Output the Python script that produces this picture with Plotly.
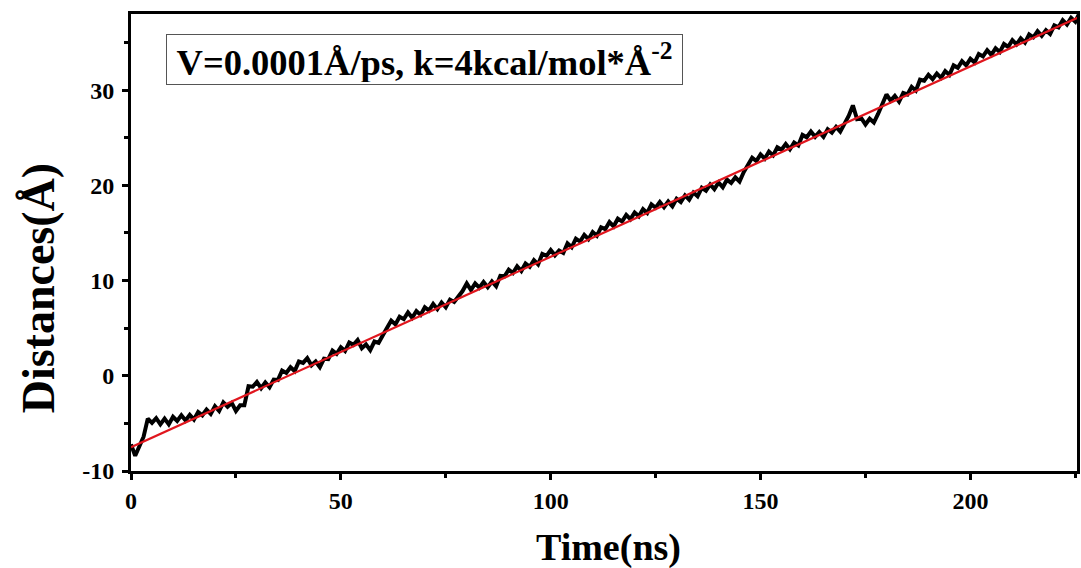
import plotly.graph_objects as go

# Time (ns), 1 ns steps
time_ns = list(range(0, 227))
# Distance trace (Å)
distance = [
    -7.2, -8.4, -7.4, -6.4, -4.5, -4.95, -4.45, -5.1, -4.5, -5.1,
    -4.3, -4.75, -4.15, -4.7, -4.1, -4.6, -3.8, -4.15, -3.55, -4.0,
    -3.2, -3.7, -2.8, -3.25, -2.85, -3.7, -3.1, -3.1, -1.1, -1.15,
    -0.65, -1.3, -0.7, -1.2, -0.4, -0.45, 0.55, 0.3, 0.9, 0.5,
    1.5, 1.35, 1.85, 1.1, 1.5, 0.9, 1.8, 1.75, 2.65, 2.3,
    3.0, 2.6, 3.5, 3.25, 3.75, 2.9, 3.3, 2.7, 3.6, 3.45,
    4.25, 5.0, 5.8, 5.4, 6.2, 5.95, 6.65, 6.1, 6.8, 6.4,
    7.2, 6.85, 7.55, 7.0, 7.7, 7.2, 8.0, 7.75, 8.35, 8.9,
    9.7, 9.0, 9.7, 9.25, 9.85, 9.3, 9.9, 9.4, 10.5, 10.45,
    11.15, 10.8, 11.5, 11.0, 11.8, 11.45, 12.15, 11.7, 12.8, 12.6,
    13.2, 12.65, 13.15, 12.9, 13.9, 13.5, 14.4, 14.1, 14.8, 14.35,
    15.1, 14.7, 15.6, 15.4, 16.15, 15.7, 16.5, 16.2, 16.9, 16.45,
    17.15, 16.75, 17.5, 17.1, 18.0, 17.65, 18.25, 17.7, 18.3, 17.8,
    18.6, 18.25, 18.95, 18.5, 19.25, 18.85, 19.75, 19.45, 20.1, 19.6,
    20.3, 19.8, 20.6, 20.25, 20.85, 20.4, 21.4, 22.1, 22.9, 22.55,
    23.25, 22.8, 23.55, 23.15, 24.0, 23.75, 24.35, 23.8, 24.5, 24.2,
    25.3, 25.05, 25.65, 25.1, 25.6, 25.1, 25.9, 25.55, 26.15, 25.65,
    26.4, 27.3, 28.4, 26.95, 27.05, 26.4, 27.0, 26.6, 27.5, 28.65,
    29.55, 28.9, 29.4, 28.8, 29.7, 29.55, 30.35, 29.95, 31.1, 31.0,
    31.6, 31.15, 31.75, 31.3, 32.0, 31.6, 32.6, 32.35, 33.05, 32.6,
    33.3, 32.9, 33.8, 33.55, 34.2, 33.7, 34.4, 34.0, 34.85, 34.55,
    35.25, 34.8, 35.45, 35.0, 35.85, 35.55, 36.2, 35.7, 36.3, 35.9,
    36.8, 36.6, 37.35, 36.9, 37.6, 37.2, 38.1,
]
# Linear fit end points
fit_time = [0, 226]
fit_distance = [-7.5, 37.7]

x_ticks = [0, 50, 100, 150, 200]
x_tick_labels = ["0", "50", "100", "150", "200"]
y_ticks = [-10, 0, 10, 20, 30]
y_tick_labels = ["-10", "0", "10", "20", "30"]
label_text = "V=0.0001Å/ps, k=4kcal/mol*Å<sup>-2</sup>"
x_title = "Time(ns)"
y_title = "Distances(Å)"

FONT = "Liberation Serif"

W, H = 1081, 568
L, T, B, R = 131, 14, 97, 1
PW, PH = W - L - R, H - T - B


def px_x(px):
    return (px - L) / PW


def px_y(py):
    return (H - B - py) / PH


fig = go.Figure()
fig.add_trace(go.Scatter(x=time_ns, y=distance, mode="lines",
                         line=dict(color="black", width=4), showlegend=False))
fig.add_trace(go.Scatter(x=fit_time, y=fit_distance, mode="lines",
                         line=dict(color="#e0161e", width=2.2), showlegend=False))

axis_common = dict(showgrid=False, zeroline=False, showline=True, linecolor="black",
                   linewidth=3, mirror=True, ticks="outside", tickcolor="black",
                   tickwidth=3, ticklen=6,
                   tickfont=dict(family=FONT, size=24, color="black", weight="bold"))

fig.update_xaxes(range=[0, 225.4], tickvals=x_ticks, ticktext=x_tick_labels,
                 minor=dict(tickvals=[25, 75, 125, 175, 225], ticks="outside", ticklen=4,
                            tickwidth=3, tickcolor="black"),
                 **axis_common)
fig.update_yaxes(range=[-10, 38], tickvals=y_ticks, ticktext=y_tick_labels,
                 ticklabelstandoff=3,
                 minor=dict(tickvals=[-5, 5, 15, 25, 35], ticks="outside", ticklen=4,
                            tickwidth=3, tickcolor="black"),
                 **axis_common)

fig.add_annotation(xref="paper", yref="paper", x=px_x(425.5), y=px_y(59.5),
                   text=label_text, showarrow=False, xanchor="center", yanchor="middle",
                   font=dict(family=FONT, size=36.5, color="black", weight="bold"),
                   bordercolor="#555555", borderwidth=1, borderpad=2, bgcolor="white",
                   width=511, height=45)
fig.add_annotation(xref="paper", yref="paper", x=px_x(610), y=px_y(547),
                   text=x_title, showarrow=False, xanchor="center", yanchor="middle",
                   font=dict(family=FONT, size=38, color="black", weight="bold"))
fig.add_annotation(xref="paper", yref="paper", x=px_x(38), y=px_y(288),
                   text=y_title, showarrow=False, xanchor="center", yanchor="middle",
                   textangle=-90,
                   font=dict(family=FONT, size=46, color="black", weight="bold"))

fig.update_layout(width=W, height=H, margin=dict(l=L, r=R, t=T, b=B),
                  paper_bgcolor="white", plot_bgcolor="white")

fig.write_html("out.html", config={"displayModeBar": False},
               post_script="document.body.style.margin='0';document.body.style.overflow='hidden';")
